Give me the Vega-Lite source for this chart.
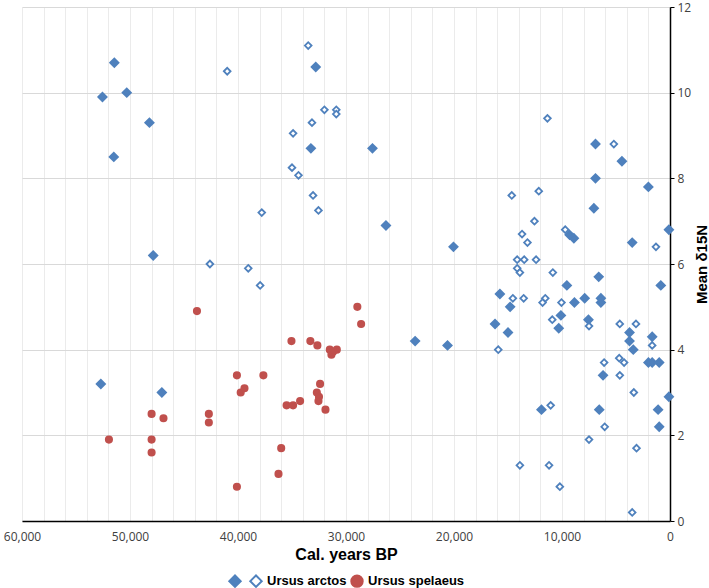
{
  "$schema": "https://vega.github.io/schema/vega-lite/v6.json",
  "width": 648,
  "height": 514,
  "autosize": {"type": "none"},
  "padding": {"left": 22, "top": 7, "right": 39, "bottom": 67},
  "background": "white",
  "config": {
    "view": {"stroke": null},
    "axis": {"labelFont": "Open Sans", "labelFontSize": 12, "labelColor": "#404040", "titleFont": "Liberation Sans", "titleFontWeight": "bold", "titleFontSize": 16, "titleColor": "#000000"},
    "legend": {
      "orient": "none", "legendX": 206, "legendY": 567, "direction": "horizontal", "title": null,
      "labelFont": "Liberation Sans", "labelFontWeight": "bold", "labelFontSize": 13, "labelColor": "#000000",
      "symbolSize": 130, "symbolStrokeWidth": 2, "labelOffset": 4, "columnPadding": 0, "padding": 0
    }
  },
  "data": {
    "values": [
      {"s": "A", "x": 51450, "y": 10.7},
      {"s": "A", "x": 32800, "y": 10.6},
      {"s": "A", "x": 52550, "y": 9.9},
      {"s": "A", "x": 50300, "y": 10.0},
      {"s": "A", "x": 48200, "y": 9.3},
      {"s": "A", "x": 51500, "y": 8.5},
      {"s": "A", "x": 33250, "y": 8.7},
      {"s": "A", "x": 47850, "y": 6.2},
      {"s": "A", "x": 52700, "y": 3.2},
      {"s": "A", "x": 47050, "y": 3.0},
      {"s": "A", "x": 27550, "y": 8.7},
      {"s": "A", "x": 6900, "y": 8.8},
      {"s": "A", "x": 4450, "y": 8.4},
      {"s": "A", "x": 6900, "y": 8.0},
      {"s": "A", "x": 2000, "y": 7.8},
      {"s": "A", "x": 7050, "y": 7.3},
      {"s": "A", "x": 26300, "y": 6.9},
      {"s": "A", "x": 9300, "y": 6.68},
      {"s": "A", "x": 8900, "y": 6.6},
      {"s": "A", "x": 20050, "y": 6.4},
      {"s": "A", "x": 3500, "y": 6.5},
      {"s": "A", "x": 100, "y": 6.8},
      {"s": "A", "x": 6600, "y": 5.7},
      {"s": "A", "x": 15750, "y": 5.3},
      {"s": "A", "x": 14800, "y": 5.0},
      {"s": "A", "x": 9550, "y": 5.5},
      {"s": "A", "x": 8850, "y": 5.1},
      {"s": "A", "x": 7900, "y": 5.2},
      {"s": "A", "x": 6400, "y": 5.2},
      {"s": "A", "x": 6400, "y": 5.1},
      {"s": "A", "x": 850, "y": 5.5},
      {"s": "A", "x": 16200, "y": 4.6},
      {"s": "A", "x": 15000, "y": 4.4},
      {"s": "A", "x": 10100, "y": 4.8},
      {"s": "A", "x": 10300, "y": 4.5},
      {"s": "A", "x": 7550, "y": 4.7},
      {"s": "A", "x": 3750, "y": 4.4},
      {"s": "A", "x": 3750, "y": 4.2},
      {"s": "A", "x": 3400, "y": 4.0},
      {"s": "A", "x": 1650, "y": 4.3},
      {"s": "A", "x": 23600, "y": 4.2},
      {"s": "A", "x": 20600, "y": 4.1},
      {"s": "A", "x": 6200, "y": 3.4},
      {"s": "A", "x": 2000, "y": 3.7},
      {"s": "A", "x": 1650, "y": 3.7},
      {"s": "A", "x": 1000, "y": 3.7},
      {"s": "A", "x": 100, "y": 2.9},
      {"s": "A", "x": 11900, "y": 2.6},
      {"s": "A", "x": 6550, "y": 2.6},
      {"s": "A", "x": 1100, "y": 2.6},
      {"s": "A", "x": 1000, "y": 2.2},
      {"s": "B", "x": 41000, "y": 10.5},
      {"s": "B", "x": 33500, "y": 11.1},
      {"s": "B", "x": 32000, "y": 9.6},
      {"s": "B", "x": 30900, "y": 9.6},
      {"s": "B", "x": 30900, "y": 9.5},
      {"s": "B", "x": 33150, "y": 9.3},
      {"s": "B", "x": 34900, "y": 9.05},
      {"s": "B", "x": 35000, "y": 8.25},
      {"s": "B", "x": 34400, "y": 8.07},
      {"s": "B", "x": 33050, "y": 7.6},
      {"s": "B", "x": 32550, "y": 7.25},
      {"s": "B", "x": 37800, "y": 7.2},
      {"s": "B", "x": 42600, "y": 6.0},
      {"s": "B", "x": 39050, "y": 5.9},
      {"s": "B", "x": 37950, "y": 5.5},
      {"s": "B", "x": 11350, "y": 9.4},
      {"s": "B", "x": 5200, "y": 8.8},
      {"s": "B", "x": 14650, "y": 7.6},
      {"s": "B", "x": 12150, "y": 7.7},
      {"s": "B", "x": 12550, "y": 7.0},
      {"s": "B", "x": 9700, "y": 6.8},
      {"s": "B", "x": 13700, "y": 6.7},
      {"s": "B", "x": 13200, "y": 6.5},
      {"s": "B", "x": 1300, "y": 6.4},
      {"s": "B", "x": 14150, "y": 6.1},
      {"s": "B", "x": 13500, "y": 6.1},
      {"s": "B", "x": 12400, "y": 6.1},
      {"s": "B", "x": 14150, "y": 5.9},
      {"s": "B", "x": 13900, "y": 5.8},
      {"s": "B", "x": 10850, "y": 5.8},
      {"s": "B", "x": 14550, "y": 5.2},
      {"s": "B", "x": 13550, "y": 5.2},
      {"s": "B", "x": 11550, "y": 5.2},
      {"s": "B", "x": 11800, "y": 5.1},
      {"s": "B", "x": 10050, "y": 5.1},
      {"s": "B", "x": 10900, "y": 4.7},
      {"s": "B", "x": 7500, "y": 4.55},
      {"s": "B", "x": 4650, "y": 4.6},
      {"s": "B", "x": 3150, "y": 4.6},
      {"s": "B", "x": 1650, "y": 4.1},
      {"s": "B", "x": 15900, "y": 4.0},
      {"s": "B", "x": 6100, "y": 3.7},
      {"s": "B", "x": 4700, "y": 3.8},
      {"s": "B", "x": 4250, "y": 3.7},
      {"s": "B", "x": 4650, "y": 3.4},
      {"s": "B", "x": 3350, "y": 3.0},
      {"s": "B", "x": 11050, "y": 2.7},
      {"s": "B", "x": 6050, "y": 2.2},
      {"s": "B", "x": 7500, "y": 1.9},
      {"s": "B", "x": 3100, "y": 1.7},
      {"s": "B", "x": 13900, "y": 1.3},
      {"s": "B", "x": 11200, "y": 1.3},
      {"s": "B", "x": 10200, "y": 0.8},
      {"s": "B", "x": 3500, "y": 0.2},
      {"s": "C", "x": 43800, "y": 4.9},
      {"s": "C", "x": 35050, "y": 4.2},
      {"s": "C", "x": 33300, "y": 4.2},
      {"s": "C", "x": 32650, "y": 4.1},
      {"s": "C", "x": 31500, "y": 4.0},
      {"s": "C", "x": 30850, "y": 4.0},
      {"s": "C", "x": 31350, "y": 3.88},
      {"s": "C", "x": 31200, "y": 3.95},
      {"s": "C", "x": 28950, "y": 5.0},
      {"s": "C", "x": 28600, "y": 4.6},
      {"s": "C", "x": 40100, "y": 3.4},
      {"s": "C", "x": 37650, "y": 3.4},
      {"s": "C", "x": 39400, "y": 3.1},
      {"s": "C", "x": 39750, "y": 3.0},
      {"s": "C", "x": 32400, "y": 3.2},
      {"s": "C", "x": 32700, "y": 3.0},
      {"s": "C", "x": 32500, "y": 2.9},
      {"s": "C", "x": 32550, "y": 2.8},
      {"s": "C", "x": 31900, "y": 2.6},
      {"s": "C", "x": 35500, "y": 2.7},
      {"s": "C", "x": 34900, "y": 2.7},
      {"s": "C", "x": 34250, "y": 2.8},
      {"s": "C", "x": 48000, "y": 2.5},
      {"s": "C", "x": 46900, "y": 2.4},
      {"s": "C", "x": 42700, "y": 2.5},
      {"s": "C", "x": 42700, "y": 2.3},
      {"s": "C", "x": 51950, "y": 1.9},
      {"s": "C", "x": 48000, "y": 1.9},
      {"s": "C", "x": 48000, "y": 1.6},
      {"s": "C", "x": 36000, "y": 1.7},
      {"s": "C", "x": 36250, "y": 1.1},
      {"s": "C", "x": 40100, "y": 0.8}
    ]
  },
  "encoding": {
    "x": {
      "field": "x", "type": "quantitative",
      "scale": {"domain": [0, 60000], "reverse": true, "nice": false},
      "axis": {
        "title": "Cal. years BP",
        "values": [0,2000,4000,6000,8000,10000,12000,14000,16000,18000,20000,22000,24000,26000,28000,30000,32000,34000,36000,38000,40000,42000,44000,46000,48000,50000,52000,54000,56000,58000,60000],
        "labelExpr": "datum.value % 10000 === 0 ? format(datum.value, ',') : ''",
        "ticks": false, "tickSize": 0, "labelPadding": 10, "labelFlush": false,
        "grid": true, "gridColor": "#ebebeb", "gridWidth": 1,
        "domainColor": "#000000", "domainWidth": 1.5,
        "labelOverlap": false, "titlePadding": 4
      }
    },
    "y": {
      "field": "y", "type": "quantitative",
      "scale": {"domain": [0, 12], "nice": false},
      "axis": {
        "orient": "right", "title": "Mean δ15N", "titleAngle": -90, "titleBaseline": "top",
        "values": [0, 2, 4, 6, 8, 10, 12],
        "grid": true, "gridColor": "#d9d9d9", "gridWidth": 1,
        "domainColor": "#000000", "domainWidth": 1.5,
        "tickColor": "#000000", "tickSize": 4, "labelPadding": 3, "labelFlush": false,
        "titlePadding": 4, "titleFontSize": 15
      }
    },
    "fill": {
      "field": "s", "type": "nominal",
      "scale": {"domain": ["A", "B", "C"], "range": ["#4F81BD", "#ffffff", "#C0504D"]},
      "legend": {
        "labelExpr": "datum.value == 'A' ? '' : datum.value == 'B' ? 'Ursus arctos' : 'Ursus spelaeus'"
      }
    },
    "stroke": {
      "field": "s", "type": "nominal",
      "scale": {"domain": ["A", "B", "C"], "range": ["#4F81BD", "#4F81BD", "#C0504D"]},
      "legend": {
        "labelExpr": "datum.value == 'A' ? '' : datum.value == 'B' ? 'Ursus arctos' : 'Ursus spelaeus'"
      }
    },
    "shape": {
      "field": "s", "type": "nominal",
      "scale": {"domain": ["A", "B", "C"], "range": ["diamond", "diamond", "circle"]},
      "legend": {
        "labelExpr": "datum.value == 'A' ? '' : datum.value == 'B' ? 'Ursus arctos' : 'Ursus spelaeus'"
      }
    }
  },
  "layer": [
    {
      "transform": [{"filter": "datum.s == 'A'"}],
      "mark": {"type": "point", "filled": true, "opacity": 1, "strokeWidth": 1.8, "size": 70}
    },
    {
      "transform": [{"filter": "datum.s == 'B'"}],
      "mark": {"type": "point", "filled": true, "opacity": 1, "strokeWidth": 1.8, "size": 45}
    },
    {
      "transform": [{"filter": "datum.s == 'C'"}],
      "mark": {"type": "point", "filled": true, "opacity": 1, "strokeWidth": 1.8, "size": 40}
    }
  ]
}
